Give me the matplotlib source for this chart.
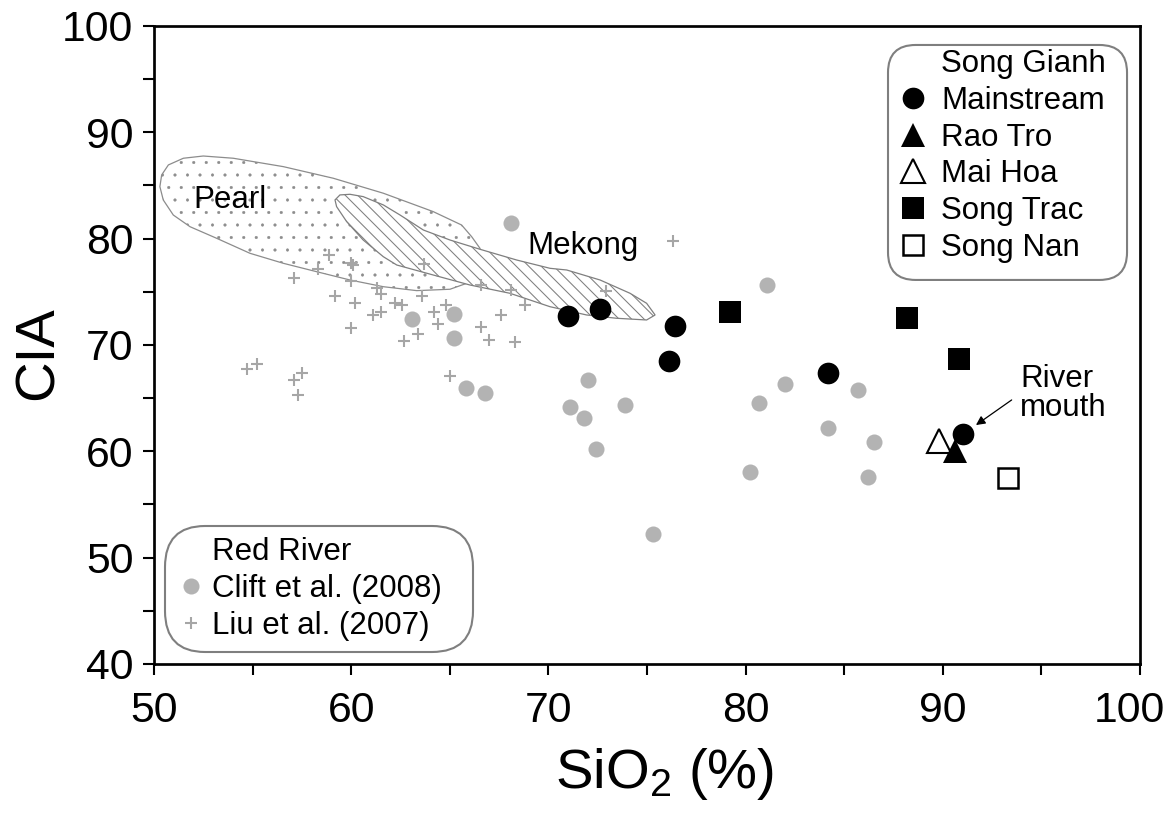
import matplotlib
matplotlib.use("Agg")
from matplotlib import pyplot as plt
from matplotlib.patches import Polygon, FancyBboxPatch
from matplotlib.lines import Line2D
from matplotlib.ticker import MultipleLocator, FuncFormatter
import numpy as np

plt.rcParams['font.family'] = ['Liberation Sans', 'DejaVu Sans']
plt.rcParams['mathtext.default'] = 'regular'
plt.rcParams['hatch.linewidth'] = 0.5

# Song Gianh samples
mainstream_sio2 = [71.0, 72.6, 76.4, 76.1, 84.2, 91.0]
mainstream_cia = [72.7, 73.4, 71.8, 68.5, 67.4, 61.6]
raotro_sio2 = [90.6]
raotro_cia = [60.0]
maihoa_sio2 = [89.8]
maihoa_cia = [61.0]
songtrac_sio2 = [79.2, 88.2, 90.8]
songtrac_cia = [73.1, 72.5, 68.7]
songnan_sio2 = [93.3]
songnan_cia = [57.5]

# Red River, Clift et al. (2008)
clift_sio2 = [68.1, 63.1, 65.2, 65.2, 65.8, 66.8, 72.0, 71.1, 71.8, 73.9,
              72.4, 81.1, 82.0, 80.7, 85.7, 84.2, 86.5, 80.2, 86.2, 75.3]
clift_cia = [81.5, 72.4, 72.9, 70.7, 66.0, 65.5, 66.7, 64.2, 63.1, 64.4,
             60.2, 75.6, 66.3, 64.5, 65.8, 62.2, 60.9, 58.1, 57.6, 52.2]

# Red River, Liu et al. (2007)
liu_sio2 = [58.9, 60.0, 60.1, 58.3, 57.1, 60.0, 63.7, 61.3, 61.5, 59.2,
            60.2, 62.2, 62.6, 63.6, 64.8, 66.6, 68.1, 68.8, 67.6, 61.5,
            61.1, 64.2, 64.4, 60.0, 66.6, 67.0, 68.3, 62.7, 63.4, 65.0,
            54.7, 55.2, 57.1, 57.5, 57.3, 76.3, 72.9]
liu_cia = [78.5, 77.7, 77.5, 77.1, 76.3, 76.0, 77.6, 75.4, 74.8, 74.6,
           73.9, 73.9, 73.8, 74.6, 73.8, 75.6, 75.2, 73.8, 72.8, 73.1,
           72.8, 73.1, 72.0, 71.6, 71.7, 70.5, 70.3, 70.4, 71.0, 67.1,
           67.7, 68.2, 66.7, 67.4, 65.3, 79.8, 75.1]

# envelopes (SiO2, CIA)
pearl_sio2 = [50.39, 50.73, 51.49, 52.50, 54.02, 56.56, 59.09, 61.63, 64.16, 65.60,
              66.11, 66.53, 66.62, 65.86, 65.01, 63.32, 61.63, 59.94, 58.25, 56.56,
              54.87, 53.18, 51.83, 50.98, 50.47, 50.30]
pearl_cia = [85.99, 86.93, 87.56, 87.77, 87.56, 86.77, 85.68, 84.27, 82.54, 81.28,
             80.18, 79.09, 77.68, 75.80, 75.24, 75.11, 75.48, 76.11, 76.89, 77.68,
             78.62, 80.03, 81.12, 82.22, 83.64, 84.89]
mekong_sio2 = [59.18, 59.43, 59.94, 60.61, 61.63, 62.47, 63.66, 65.01, 66.53, 68.39,
               70.08, 70.93, 72.62, 74.14, 74.98, 75.41, 74.98, 73.46, 71.94, 70.08,
               68.05, 66.02, 64.16, 62.31, 61.63, 60.61, 59.77, 59.26]
mekong_cia = [83.64, 84.11, 84.17, 83.95, 83.17, 82.23, 80.81, 79.87, 79.00, 77.99,
              77.21, 77.05, 76.11, 74.86, 73.92, 72.82, 72.35, 72.51, 72.82, 73.60,
              74.86, 75.64, 76.58, 77.52, 78.30, 79.87, 81.60, 83.01]

fig = plt.figure(figsize=(7.8, 5.4267), dpi=150)
ax = fig.add_axes([0.1316, 0.1843, 0.9744 - 0.1316, 0.9681 - 0.1843])

grey_line = '#7f7f7f'
fs_txt = 15

pearl = Polygon(np.column_stack([pearl_sio2, pearl_cia]), closed=True,
                facecolor='white', edgecolor='#8c8c8c', lw=0.6, hatch='..', zorder=1)
mekong = Polygon(np.column_stack([mekong_sio2, mekong_cia]), closed=True,
                 facecolor='white', edgecolor=grey_line, lw=0.6, hatch='\\\\\\\\', zorder=2)
if hasattr(pearl, 'set_hatch_linewidth'):
    pearl.set_hatch_linewidth(0.25)
    mekong.set_hatch_linewidth(0.5)
ax.add_patch(pearl)
ax.add_patch(mekong)

ax.text(51.98, 83.6, 'Pearl', fontsize=fs_txt, va='center', ha='left', zorder=5)
ax.text(68.91, 79.3, 'Mekong', fontsize=fs_txt, va='center', ha='left', zorder=5)

liu, = ax.plot(liu_sio2, liu_cia, linestyle='none', marker='+', ms=5.9, mew=1.0,
               color='#a6a6a6', zorder=3)
clift, = ax.plot(clift_sio2, clift_cia, linestyle='none', marker='o', ms=7.7,
                 mfc='#b3b3b3', mec='none', zorder=3)

songnan, = ax.plot(songnan_sio2, songnan_cia, linestyle='none', marker='s', ms=9.8,
                   mfc='white', mec='black', mew=1.2, zorder=4)
songtrac, = ax.plot(songtrac_sio2, songtrac_cia, linestyle='none', marker='s', ms=10.9,
                    color='black', mec='none', zorder=4)
maihoa, = ax.plot(maihoa_sio2, maihoa_cia, linestyle='none', marker='^', ms=11.5,
                  mfc='white', mec='black', mew=1.0, zorder=4)
raotro, = ax.plot(raotro_sio2, raotro_cia, linestyle='none', marker='^', ms=11.5,
                  color='black', mec='none', zorder=5)
mainstream, = ax.plot(mainstream_sio2, mainstream_cia, linestyle='none', marker='o',
                      ms=10.4, color='black', mec='none', zorder=6)

ax.text(93.92, 65.4, 'River\nmouth', fontsize=fs_txt, ha='left', va='center',
        linespacing=0.95)
ax.annotate('', xy=(91.68, 62.47), xytext=(93.49, 64.83),
            arrowprops=dict(arrowstyle='-|>', color='black', lw=0.6,
                            mutation_scale=9, shrinkA=0, shrinkB=0))

ax.set_xlim(50, 100)
ax.set_ylim(40, 100)
ax.xaxis.set_major_locator(MultipleLocator(10))
ax.xaxis.set_minor_locator(MultipleLocator(5))
ax.yaxis.set_major_locator(MultipleLocator(10))
ax.yaxis.set_minor_locator(MultipleLocator(5))
# last x label is nudged inward as in the original, drawn separately
ax.xaxis.set_major_formatter(FuncFormatter(lambda v, p: '' if v >= 100 else '%d' % v))
ax.tick_params(which='both', direction='out', length=5.3, width=1.0,
               top=False, right=False)
ax.tick_params(axis='x', which='major', labelsize=20.5, pad=7.5)
ax.tick_params(axis='y', which='major', labelsize=20.5, pad=4.6)
ax.annotate('100', xy=(100, 40), xycoords='data', xytext=(-5, -12.8),
            textcoords='offset points', ha='center', va='top', fontsize=20.5,
            annotation_clip=False)
for s in ax.spines.values():
    s.set_linewidth(1.3)

ax.set_xlabel('SiO$_2$ (%)', fontsize=27)
ax.set_ylabel('CIA', fontsize=27)
ax.xaxis.set_label_coords(0.518, -0.128)
ax.yaxis.set_label_coords(-0.091, 0.487)

blank = Line2D([], [], linestyle='none', marker=None)

# Song Gianh legend: rounded box drawn separately, entries from legend()
aspect = 986 / 638
box1 = FancyBboxPatch((0.7444, 0.6019), 0.2424, 0.3683, transform=ax.transAxes,
                      boxstyle='round,pad=0,rounding_size=0.028', mutation_aspect=aspect,
                      facecolor='white', edgecolor=grey_line, lw=1.0, zorder=7)
ax.add_patch(box1)
leg1 = ax.legend([blank, mainstream, raotro, maihoa, songtrac, songnan],
                 ['Song Gianh', 'Mainstream', 'Rao Tro', 'Mai Hoa', 'Song Trac', 'Song Nan'],
                 loc='upper left', bbox_to_anchor=(0.7535, 0.9635), borderaxespad=0,
                 fontsize=fs_txt, frameon=False, handlelength=1.0,
                 handletextpad=0.42, borderpad=0, labelspacing=0.215)
leg1.set_zorder(8)
ax.add_artist(leg1)

leg2 = ax.legend([blank, clift, liu],
                 ['Red River', 'Clift et al. (2008)', 'Liu et al. (2007)'],
                 loc='lower left', bbox_to_anchor=(0.011, 0.019, 0.3124, 0.2),
                 mode='expand', borderaxespad=0,
                 fontsize=fs_txt, frameon=True, fancybox=True, handlelength=1.0,
                 handletextpad=0.15, borderpad=0.35, labelspacing=0.22)
f2 = leg2.get_frame()
f2.set_boxstyle('round', pad=0, rounding_size=1.3)
f2.set_edgecolor(grey_line)
f2.set_linewidth(1.0)
f2.set_alpha(None)
f2.set_facecolor('white')

fig.savefig('out.png', dpi=150)
